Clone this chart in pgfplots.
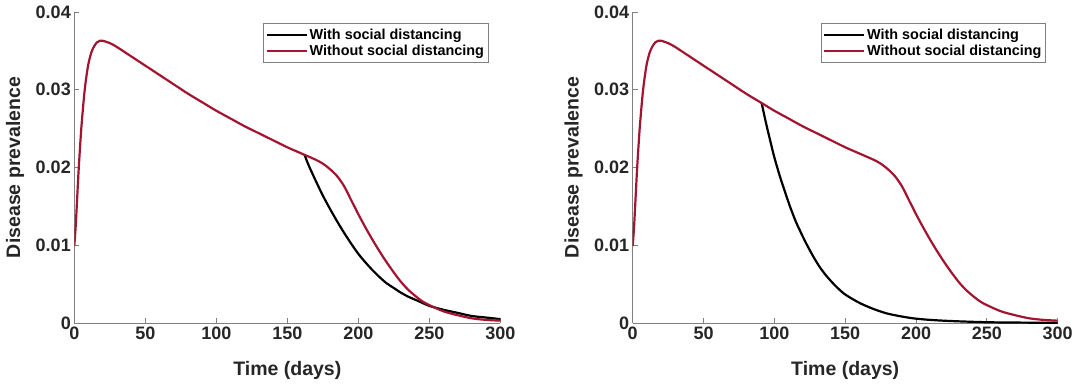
\documentclass[border=0pt]{standalone}
\usepackage{pgfplots}
\pgfplotsset{compat=1.18}
\usepackage{fontspec}
\setmainfont{Liberation Sans}
\definecolor{mred}{HTML}{A2142F}
\definecolor{txt}{HTML}{262626}
\definecolor{axc}{HTML}{808080}

\begin{document}
\begin{tikzpicture}
\pgfplotsset{
  myax/.style={
    scale only axis,
    width=426pt, height=311pt,
    xmin=0, xmax=300, ymin=0, ymax=0.04,
    axis x line*=bottom, axis y line*=left,
    axis line style={draw=axc, line width=0.8pt, -},
    xtick={0,50,100,150,200,250,300},
    ytick={0,0.01,0.02,0.03,0.04},
    tick style={draw=axc, line width=0.8pt},
    tick align=inside,
    major tick length=5pt,
    scaled y ticks=false,
    yticklabel style={/pgf/number format/fixed, /pgf/number format/precision=2},
    /pgf/number format/assume math mode=true,
    tick label style={font=\fontsize{18}{20}\selectfont\bfseries, text=txt},
    label style={font=\fontsize{19.5}{22}\selectfont\bfseries, text=txt},
    xlabel={Time (days)},
    ylabel={Disease prevalence},
    ylabel style={at={(axis description cs:-0.139,0.5)}, anchor=center},
    xlabel style={at={(axis description cs:0.5,-0.152)}, anchor=center},
    legend style={at={(rel axis cs:0.972,0.965)}, anchor=north east,
      draw=axc, line width=0.8pt, fill=white,
      font=\fontsize{14.4}{16}\selectfont\bfseries, text=black,
      inner xsep=2pt, inner ysep=3.5pt, row sep=0pt},
    legend cell align=left,
    legend image code/.code={\draw[##1] (0pt,0pt) -- (40pt,0pt);},
  },
}
\pgfplotstableread{
t v
0 0.0099
1 0.0125
2 0.0160
3 0.0195
4 0.0225
5 0.0252
6 0.0274
7 0.0294
8 0.0310
9 0.0323
10 0.0334
12 0.0348
14 0.0356
16 0.0361
18 0.0363
20 0.0363
25 0.0360
30 0.0355
40 0.0343
50 0.0331
60 0.0319
70 0.0307
80 0.0295
90 0.0284
100 0.0273
110 0.0263
120 0.0253
130 0.0244
140 0.0235
150 0.0226
160 0.0218
170 0.0210
175 0.0205
180 0.0198
185 0.0189
190 0.0176
195 0.0158
200 0.0140
205 0.0123
210 0.0107
215 0.0092
220 0.0078
225 0.0065
230 0.0053
235 0.0043
240 0.0035
245 0.0028
250 0.0023
260 0.0015
270 0.0010
280 0.0006
290 0.0004
300 0.0003
}\red
\pgfplotstableread{
t v
162 0.0217
165 0.0203
170 0.0183
175 0.0164
180 0.0147
185 0.0131
190 0.0116
195 0.0102
200 0.0089
205 0.0078
210 0.0068
215 0.0059
220 0.0051
225 0.0045
230 0.0039
235 0.0034
240 0.0030
245 0.0026
250 0.0022
260 0.0017
270 0.0013
280 0.0009
290 0.0007
300 0.0005
}\blackA
\pgfplotstableread{
t v
91 0.0283
94 0.0258
97 0.0235
100 0.0213
104 0.0188
108 0.0166
111 0.0150
115 0.0131
118 0.0119
122 0.0104
127 0.0087
132 0.0072
137 0.0060
143 0.0048
149 0.0038
155 0.0031
161 0.0025
170 0.0018
179 0.00125
188 0.0009
198 0.0006
210 0.0004
225 0.00025
250 0.0001
275 0.00005
300 0.00003
}\blackB

\begin{pgfinterruptboundingbox}
\begin{axis}[myax, at={(74.3pt,60pt)}, anchor=south west]
\addplot[black, line width=2.2pt, smooth] table[x=t,y=v] {\blackA};
\addlegendentry{With social distancing}
\addplot[mred, line width=2.2pt, smooth] table[x=t,y=v] {\red};
\addlegendentry{Without social distancing}
\end{axis}

\begin{axis}[myax, width=425pt, at={(632.7pt,60pt)}, anchor=south west]
\addplot[black, line width=2.2pt, smooth] table[x=t,y=v] {\blackB};
\addlegendentry{With social distancing}
\addplot[mred, line width=2.2pt, smooth] table[x=t,y=v] {\red};
\addlegendentry{Without social distancing}
\end{axis}
\end{pgfinterruptboundingbox}
\path (0pt,0pt) rectangle (1075pt,383pt);
\end{tikzpicture}
\end{document}
